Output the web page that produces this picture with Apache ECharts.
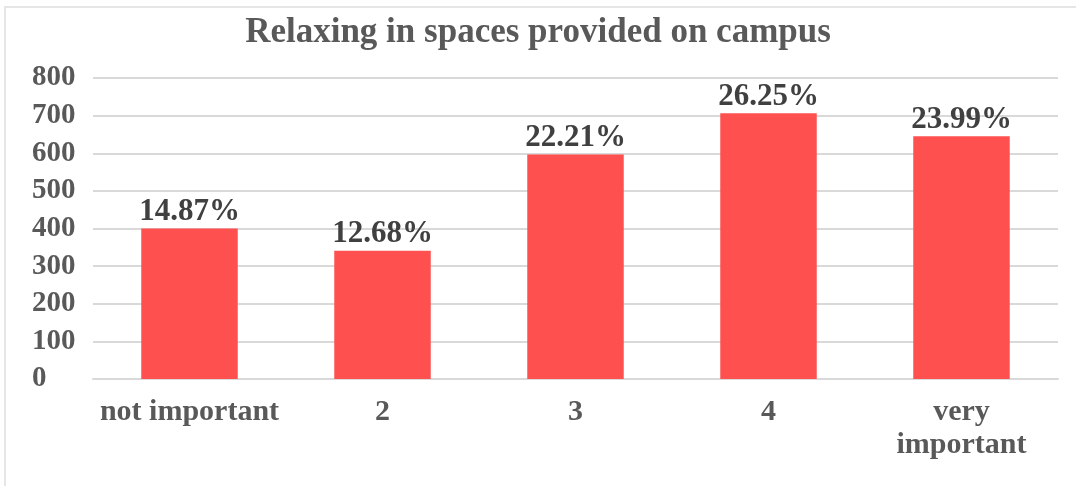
<!DOCTYPE html>
<html>
<head>
<meta charset="utf-8">
<script src="https://cdn.jsdelivr.net/npm/echarts@6/dist/echarts.min.js"></script>
<style>
  html, body { margin: 0; padding: 0; background: #fff; }
  #frame {
    position: absolute; left: 4px; top: 6px; width: 1072px; height: 480px;
    border-left: 2px solid #e6e6e6; border-top: 2px solid #e6e6e6;
  }
  #chart { position: absolute; left: 0; top: 0; width: 1076px; height: 486px; }
</style>
</head>
<body>
<div id="frame"></div>
<div id="chart"></div>
<script>
// responses per rating
const categories = ["not important", "2", "3", "4", "very\nimportant"];
const counts = [400, 341, 597, 706, 645];
const percents = ["14.87%", "12.68%", "22.21%", "26.25%", "23.99%"];
const yTicks = { min: 0, max: 800, interval: 100 };

const fontFam = "'Liberation Serif', 'Times New Roman', serif";

let chart = echarts.init(document.getElementById("chart"));
let option = {
  animation: false,
  title: {
    text: "Relaxing in spaces provided on campus",
    left: "center",
    top: 10,
    textStyle: {
      fontFamily: fontFam,
      fontSize: 35,
      fontWeight: "bold",
      color: "#595959"
    }
  },
  grid: {
    left: 93,
    right: 18,
    top: 78,
    bottom: 107
  },
  xAxis: {
    type: "category",
    data: categories,
    axisLine: { lineStyle: { color: "#d9d9d9", width: 2 } },
    axisTick: { show: false },
    axisLabel: {
      fontFamily: fontFam,
      fontSize: 30,
      fontWeight: "bold",
      color: "#595959",
      margin: 17,
      lineHeight: 33,
      interval: 0
    }
  },
  yAxis: {
    type: "value",
    min: yTicks.min,
    max: yTicks.max,
    interval: yTicks.interval,
    axisLine: { show: false },
    axisTick: { show: false },
    splitLine: { lineStyle: { color: "#d9d9d9", width: 2 } },
    axisLabel: {
      fontFamily: fontFam,
      fontSize: 29,
      fontWeight: "bold",
      color: "#595959",
      align: "left",
      margin: 61
    }
  },
  series: [
    {
      type: "bar",
      data: counts,
      barWidth: "50%",
      itemStyle: { color: "#ff5050" },
      label: {
        show: true,
        position: "top",
        distance: 1,
        fontFamily: fontFam,
        fontSize: 31,
        fontWeight: "bold",
        color: "#404040",
        formatter: p => percents[p.dataIndex]
      }
    }
  ]
};
chart.setOption(option);
</script>
</body>
</html>
